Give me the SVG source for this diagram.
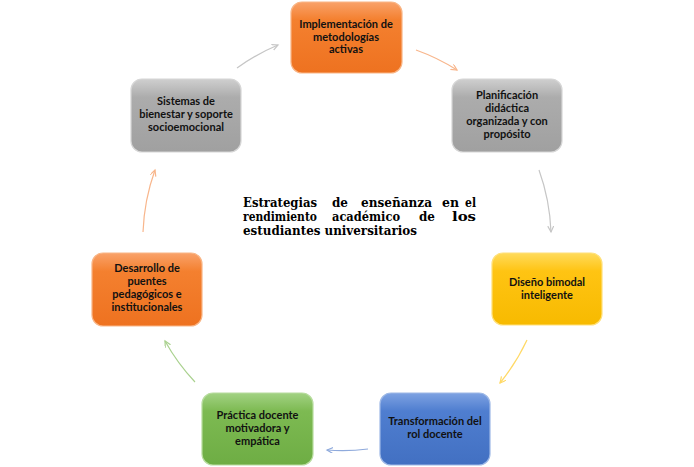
<svg xmlns="http://www.w3.org/2000/svg" width="694" height="467" viewBox="0 0 694 467">
<defs>
<linearGradient id="gOr" x1="0" y1="0" x2="0" y2="1"><stop offset="0" stop-color="#F9A26A"/><stop offset="0.25" stop-color="#F4802F"/><stop offset="1" stop-color="#EE7220"/></linearGradient>
<linearGradient id="gGr" x1="0" y1="0" x2="0" y2="1"><stop offset="0" stop-color="#CFCFCF"/><stop offset="0.25" stop-color="#ACACAC"/><stop offset="1" stop-color="#A0A0A0"/></linearGradient>
<linearGradient id="gYe" x1="0" y1="0" x2="0" y2="1"><stop offset="0" stop-color="#FFDB5C"/><stop offset="0.25" stop-color="#FFC413"/><stop offset="1" stop-color="#F7BA00"/></linearGradient>
<linearGradient id="gBl" x1="0" y1="0" x2="0" y2="1"><stop offset="0" stop-color="#7EA2E2"/><stop offset="0.25" stop-color="#4F7ED0"/><stop offset="1" stop-color="#4270C2"/></linearGradient>
<linearGradient id="gGn" x1="0" y1="0" x2="0" y2="1"><stop offset="0" stop-color="#A2D283"/><stop offset="0.25" stop-color="#7DBA52"/><stop offset="1" stop-color="#6EAD44"/></linearGradient>
<marker id="aOr" markerWidth="8" markerHeight="8" refX="6" refY="3" orient="auto" markerUnits="userSpaceOnUse"><path d="M0,0 L6,3 L0,6" fill="none" stroke="#F8B68C" stroke-width="1.2"/></marker>
<marker id="aGr" markerWidth="8" markerHeight="8" refX="6" refY="3" orient="auto" markerUnits="userSpaceOnUse"><path d="M0,0 L6,3 L0,6" fill="none" stroke="#C6C6C6" stroke-width="1.2"/></marker>
<marker id="aYe" markerWidth="8" markerHeight="8" refX="6" refY="3" orient="auto" markerUnits="userSpaceOnUse"><path d="M0,0 L6,3 L0,6" fill="none" stroke="#FFD966" stroke-width="1.2"/></marker>
<marker id="aBl" markerWidth="8" markerHeight="8" refX="6" refY="3" orient="auto" markerUnits="userSpaceOnUse"><path d="M0,0 L6,3 L0,6" fill="none" stroke="#8FAADC" stroke-width="1.2"/></marker>
<marker id="aGn" markerWidth="8" markerHeight="8" refX="6" refY="3" orient="auto" markerUnits="userSpaceOnUse"><path d="M0,0 L6,3 L0,6" fill="none" stroke="#A9D18E" stroke-width="1.2"/></marker>
</defs>
<style>
.box{stroke-width:1.2}
.lbl{font-family:Lato,"Open Sans","Liberation Sans",sans-serif;font-weight:bold;font-size:11px;fill:#111;text-anchor:middle}
.ttl{font-family:"DejaVu Serif","Liberation Serif",serif;font-weight:bold;font-size:12px;fill:#000}
.con{fill:none;stroke-width:1.2}
</style>
<rect width="694" height="467" fill="#fff"/>
<g id="connectors">
<path class="con" d="M416,50 A206,206 0 0 1 457,70" stroke="#F8B68C" marker-end="url(#aOr)"/>
<path class="con" d="M539,170 A206,206 0 0 1 551,232" stroke="#C6C6C6" marker-end="url(#aGr)"/>
<path class="con" d="M527,340 A206,206 0 0 1 500,383" stroke="#FFD966" marker-end="url(#aYe)"/>
<path class="con" d="M368,449 A206,206 0 0 1 327,450" stroke="#8FAADC" marker-end="url(#aBl)"/>
<path class="con" d="M195,382 A206,206 0 0 1 165,341" stroke="#A9D18E" marker-end="url(#aGn)"/>
<path class="con" d="M143,232 A206,206 0 0 1 155,170" stroke="#F8B68C" marker-end="url(#aOr)"/>
<path class="con" d="M237,68 A206,206 0 0 1 278,45" stroke="#C6C6C6" marker-end="url(#aGr)"/>
</g>
<g id="n1">
<rect class="box" x="291" y="2" width="111" height="71" rx="11" fill="url(#gOr)" stroke="#F9B585"/>
<text class="lbl" x="346" y="28">Implementación de</text>
<text class="lbl" x="346" y="40.5">metodologías</text>
<text class="lbl" x="346" y="53">activas</text>
</g>
<g id="n2">
<rect class="box" x="452" y="79" width="110" height="73" rx="11" fill="url(#gGr)" stroke="#D6D6D6"/>
<text class="lbl" x="507" y="99">Planificación</text>
<text class="lbl" x="507" y="112">didáctica</text>
<text class="lbl" x="507" y="125">organizada y con</text>
<text class="lbl" x="507" y="138">propósito</text>
</g>
<g id="n3">
<rect class="box" x="492" y="253" width="110" height="72" rx="11" fill="url(#gYe)" stroke="#FFE07A"/>
<text class="lbl" x="547" y="286">Diseño bimodal</text>
<text class="lbl" x="547" y="299">inteligente</text>
</g>
<g id="n4">
<rect class="box" x="380" y="393" width="110" height="72" rx="11" fill="url(#gBl)" stroke="#9DB8E6"/>
<text class="lbl" x="435" y="425">Transformación del</text>
<text class="lbl" x="435" y="438">rol docente</text>
</g>
<g id="n5">
<rect class="box" x="202" y="393" width="111" height="72" rx="11" fill="url(#gGn)" stroke="#B7DC9E"/>
<text class="lbl" x="257.5" y="419">Práctica docente</text>
<text class="lbl" x="257.5" y="432">motivadora y</text>
<text class="lbl" x="257.5" y="445">empática</text>
</g>
<g id="n6">
<rect class="box" x="92" y="253" width="110" height="73" rx="11" fill="url(#gOr)" stroke="#F9B585"/>
<text class="lbl" x="147" y="272">Desarrollo de</text>
<text class="lbl" x="147" y="285">puentes</text>
<text class="lbl" x="147" y="298">pedagógicos e</text>
<text class="lbl" x="147" y="311">institucionales</text>
</g>
<g id="n7">
<rect class="box" x="131" y="79" width="110" height="73" rx="11" fill="url(#gGr)" stroke="#D6D6D6"/>
<text class="lbl" x="186" y="105">Sistemas de</text>
<text class="lbl" x="186" y="118">bienestar y soporte</text>
<text class="lbl" x="186" y="131">socioemocional</text>
</g>
<g id="title">
<text class="ttl" x="243" y="207" textLength="74" lengthAdjust="spacingAndGlyphs">Estrategias</text>
<text class="ttl" x="332" y="207" textLength="16" lengthAdjust="spacingAndGlyphs">de</text>
<text class="ttl" x="361" y="207" textLength="71" lengthAdjust="spacingAndGlyphs">enseñanza</text>
<text class="ttl" x="442" y="207" textLength="17" lengthAdjust="spacingAndGlyphs">en</text>
<text class="ttl" x="465" y="207" textLength="11" lengthAdjust="spacingAndGlyphs">el</text>
<text class="ttl" x="243" y="221" textLength="74" lengthAdjust="spacingAndGlyphs">rendimiento</text>
<text class="ttl" x="332" y="221" textLength="68" lengthAdjust="spacingAndGlyphs">académico</text>
<text class="ttl" x="419" y="221" textLength="16" lengthAdjust="spacingAndGlyphs">de</text>
<text class="ttl" x="452" y="221" textLength="24" lengthAdjust="spacingAndGlyphs">los</text>
<text class="ttl" x="243" y="235" textLength="174" lengthAdjust="spacingAndGlyphs">estudiantes universitarios</text>
</g>
</svg>
